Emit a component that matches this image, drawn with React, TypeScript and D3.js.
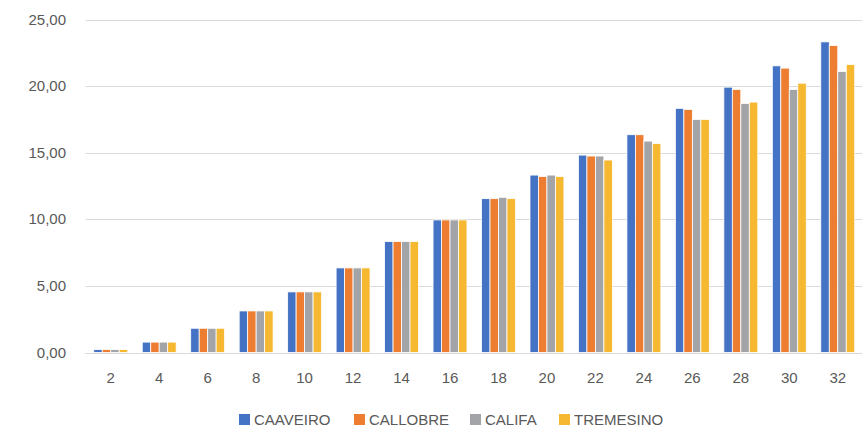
import React from 'react';
import * as d3 from 'd3';

const categories = ['2', '4', '6', '8', '10', '12', '14', '16', '18', '20', '22', '24', '26', '28', '30', '32'];
const seriesNames = ['CAAVEIRO', 'CALLOBRE', 'CALIFA', 'TREMESINO'];
const caaveiro = [0.22, 0.78, 1.82, 3.12, 4.55, 6.35, 8.33, 9.95, 11.55, 13.32, 14.82, 16.35, 18.33, 19.92, 21.52, 23.32];
const callobre = [0.22, 0.78, 1.82, 3.12, 4.55, 6.35, 8.33, 9.95, 11.55, 13.22, 14.75, 16.35, 18.25, 19.75, 21.35, 23.05];
const califa = [0.22, 0.78, 1.82, 3.12, 4.55, 6.35, 8.33, 9.95, 11.65, 13.32, 14.75, 15.87, 17.5, 18.7, 19.75, 21.1];
const tremesino = [0.22, 0.78, 1.82, 3.12, 4.55, 6.35, 8.33, 9.95, 11.55, 13.22, 14.45, 15.68, 17.5, 18.8, 20.22, 21.62];
const yTicks = [0, 5, 10, 15, 20, 25];
const colors = ['#4472C4', '#ED7D31', '#A2A4A8', '#F6B731'];

const width = 867;
const height = 428;
const margin = { top: 19.5, right: 5, bottom: 75.5, left: 86.5 };

export default function App() {
  const allSeries = [caaveiro, callobre, califa, tremesino];

  const x = d3.scaleBand<string>()
    .domain(categories)
    .range([margin.left, width - margin.right])
    .paddingInner(0.3)
    .paddingOuter(0.15);

  const xs = d3.scaleBand<number>()
    .domain(d3.range(seriesNames.length))
    .range([0, x.bandwidth()]);

  const y = d3.scaleLinear()
    .domain([0, 25])
    .range([height - margin.bottom, margin.top]);

  const fmt = (v: number) => v.toFixed(2).replace('.', ',');
  const font = '"Liberation Sans", Arial, sans-serif';

  // legend placement
  const legendX = [239, 354, 470, 559];

  return (
    <svg width={width} height={height} style={{ position: 'absolute', left: 0, top: 0, background: '#fff' }}
      fontFamily={font}>
      {/* gridlines */}
      {yTicks.map(t => (
        <g key={t}>
          <line x1={margin.left - 1} x2={width - margin.right} y1={Math.round(y(t)) + 0.5} y2={Math.round(y(t)) + 0.5}
            stroke="#D9D9D9" strokeWidth={1} />
          <text x={66} y={y(t) + 5} textAnchor="end" fontSize={15} fill="#595959">{fmt(t)}</text>
        </g>
      ))}

      {/* bars */}
      {allSeries.map((vals, si) => (
        <g key={seriesNames[si]}>
          {vals.map((v, ci) => (
            <rect key={ci}
              x={(x(categories[ci]) ?? 0) + (xs(si) ?? 0)}
              y={y(v)}
              width={xs.bandwidth()}
              height={y(0) - y(v)}
              fill={colors[si]}
              stroke="#fff"
              strokeWidth={0.8} />
          ))}
        </g>
      ))}

      {/* x axis line */}
      <line x1={margin.left - 1} x2={width - margin.right} y1={Math.round(y(0)) + 0.5} y2={Math.round(y(0)) + 0.5}
        stroke="#D9D9D9" strokeWidth={1} />

      {/* x labels */}
      {categories.map(c => (
        <text key={c} x={(x(c) ?? 0) + x.bandwidth() / 2} y={383} textAnchor="middle" fontSize={15} fill="#595959">{c}</text>
      ))}

      {/* legend */}
      {seriesNames.map((name, i) => (
        <g key={name} transform={`translate(${legendX[i]},414)`}>
          <rect x={0} y={0} width={11} height={11} fill={colors[i]} />
          <text x={15} y={11} fontSize={15} fill="#595959">{name}</text>
        </g>
      ))}
    </svg>
  );
}
